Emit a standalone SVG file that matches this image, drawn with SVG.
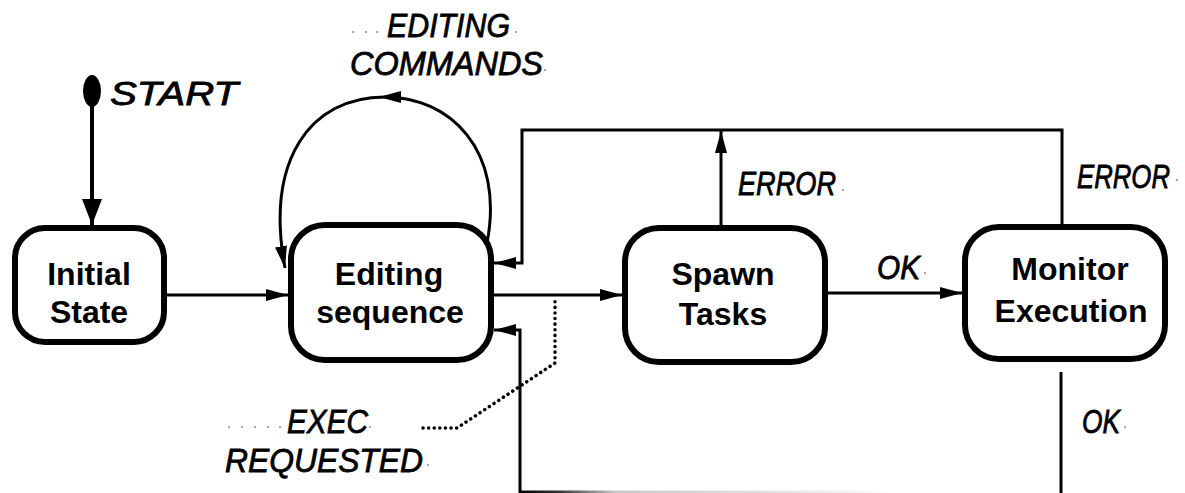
<svg xmlns="http://www.w3.org/2000/svg" width="1185" height="493" viewBox="0 0 1185 493">
  <style>
    .box { fill: #ffffff; stroke: #000000; stroke-width: 6; }
    .title { font-family: "Liberation Sans", Arial, sans-serif; font-weight: bold; font-size: 32px; fill: #000000; text-anchor: middle; }
    .hand { font-family: "Liberation Sans", Arial, sans-serif; font-style: italic; font-size: 33px; fill: #000000; stroke: #000000; stroke-width: 0.8; }
    .wire { fill: none; stroke: #000000; stroke-width: 3; }
    .leader { fill: none; stroke: #000000; stroke-width: 3.5; stroke-linecap: round; stroke-dasharray: 0.1 5.5; }
    .speck { fill: #8a8a8a; }
  </style>
  <defs>
    <marker id="arrow" markerUnits="userSpaceOnUse" markerWidth="22" markerHeight="12" refX="22" refY="6" orient="auto" viewBox="0 0 22 12">
      <path d="M0,0 L22,6 L0,12 z" fill="#000000"/>
    </marker>
    <marker id="arrowMid" markerUnits="userSpaceOnUse" markerWidth="22" markerHeight="12" refX="16" refY="6" orient="auto" viewBox="0 0 22 12">
      <path d="M0,0 L22,6 L0,12 z" fill="#000000"/>
    </marker>
    <marker id="arrowBig" markerUnits="userSpaceOnUse" markerWidth="26" markerHeight="20" refX="26" refY="10" orient="auto" viewBox="0 0 26 20">
      <path d="M0,0 L26,10 L0,20 z" fill="#000000"/>
    </marker>
    <linearGradient id="fade" gradientUnits="userSpaceOnUse" x1="520" y1="0" x2="900" y2="0">
      <stop offset="0" stop-color="#000000"/>
      <stop offset="0.1" stop-color="#333333"/>
      <stop offset="0.25" stop-color="#c8c8c8"/>
      <stop offset="0.7" stop-color="#e6e6e6"/>
      <stop offset="1" stop-color="#ffffff"/>
    </linearGradient>
  </defs>

  <!-- transitions -->
  <g id="connectors">
    <!-- start pseudo-state -->
    <ellipse cx="92" cy="91" rx="9" ry="16" fill="#000000"/>
    <line x1="92" y1="100" x2="92" y2="225" stroke="#000000" stroke-width="4" marker-end="url(#arrowBig)"/>
    <!-- initial -> editing -->
    <line class="wire" x1="167" y1="295" x2="288" y2="295" marker-end="url(#arrow)"/>
    <!-- editing commands self loop -->
    <path class="wire" d="M487,243 C505,150 450,97 385,97 C310,97 265,160 285,268" marker-mid="url(#arrowMid)" marker-end="url(#arrow)"/>
    <!-- editing -> spawn -->
    <line class="wire" x1="494" y1="295" x2="622" y2="295" marker-end="url(#arrow)"/>
    <!-- spawn -> monitor -->
    <line class="wire" x1="828" y1="293" x2="962" y2="293" marker-end="url(#arrow)"/>
    <!-- spawn error -->
    <line class="wire" x1="721" y1="226" x2="721" y2="131" marker-end="url(#arrow)"/>
    <!-- monitor error back to editing -->
    <path class="wire" d="M1062,225 V130 H522 V263 H494" marker-end="url(#arrow)"/>
    <!-- monitor ok back to editing -->
    <line class="wire" x1="1061" y1="372" x2="1061" y2="493"/>
    <line x1="520" y1="492" x2="900" y2="492" stroke="url(#fade)" stroke-width="3"/>
    <path class="wire" d="M520,493 V330 H494" marker-end="url(#arrow)"/>
    <!-- exec requested leader -->
    <path class="leader" d="M423,428 H457 L555,363 V297"/>
  </g>

  <g id="initial-state">
    <rect class="box" x="15" y="228" width="149" height="114" rx="30"/>
    <text class="title" x="89" y="285">Initial</text>
    <text class="title" x="89" y="323">State</text>
  </g>

  <g id="editing-sequence">
    <rect class="box" x="291" y="225" width="200" height="135" rx="34"/>
    <text class="title" x="389" y="285">Editing</text>
    <text class="title" x="390" y="323">sequence</text>
  </g>

  <g id="spawn-tasks">
    <rect class="box" x="625" y="228" width="200" height="134" rx="34"/>
    <text class="title" x="723" y="285">Spawn</text>
    <text class="title" x="723" y="325">Tasks</text>
  </g>

  <g id="monitor-execution">
    <rect class="box" x="965" y="227" width="200" height="132" rx="34"/>
    <text class="title" x="1070" y="280">Monitor</text>
    <text class="title" x="1071" y="322">Execution</text>
  </g>

  <!-- hand-lettered labels -->
  <g id="labels">
    <text class="hand" x="110" y="105" font-size="41" textLength="128" lengthAdjust="spacingAndGlyphs">START</text>
    <text class="hand" x="387" y="37" textLength="123" lengthAdjust="spacingAndGlyphs">EDITING</text>
    <text class="hand" x="350" y="75" textLength="193" lengthAdjust="spacingAndGlyphs">COMMANDS</text>
    <text class="hand" x="738" y="195" font-size="31" textLength="98" lengthAdjust="spacingAndGlyphs">ERROR</text>
    <text class="hand" x="1170" y="188" font-size="29" text-anchor="end" textLength="93" lengthAdjust="spacingAndGlyphs">ERROR</text>
    <text class="hand" x="877" y="279" font-size="32" textLength="43" lengthAdjust="spacingAndGlyphs">OK</text>
    <text class="hand" x="1082" y="433" font-size="32" textLength="38" lengthAdjust="spacingAndGlyphs">OK</text>
    <text class="hand" x="287" y="433" font-size="32" textLength="81" lengthAdjust="spacingAndGlyphs">EXEC</text>
    <text class="hand" x="225" y="472" font-size="33" textLength="198" lengthAdjust="spacingAndGlyphs">REQUESTED</text>
  </g>

  <!-- faint pen specks around the lettering -->
  <g id="specks">
    <circle class="speck" cx="353" cy="32" r="1"/>
    <circle class="speck" cx="366" cy="32" r="1"/>
    <circle class="speck" cx="377" cy="32" r="1"/>
    <circle class="speck" cx="516" cy="32" r="1"/>
    <circle class="speck" cx="545" cy="70" r="1"/>
    <circle class="speck" cx="843" cy="190" r="1"/>
    <circle class="speck" cx="1177" cy="180" r="1"/>
    <circle class="speck" cx="925" cy="273" r="1"/>
    <circle class="speck" cx="1125" cy="427" r="1"/>
    <circle class="speck" cx="229" cy="427" r="1"/>
    <circle class="speck" cx="242" cy="427" r="1"/>
    <circle class="speck" cx="255" cy="427" r="1"/>
    <circle class="speck" cx="268" cy="427" r="1"/>
    <circle class="speck" cx="280" cy="427" r="1"/>
    <circle class="speck" cx="370" cy="427" r="1"/>
    <circle class="speck" cx="428" cy="465" r="1"/>
  </g>
</svg>
